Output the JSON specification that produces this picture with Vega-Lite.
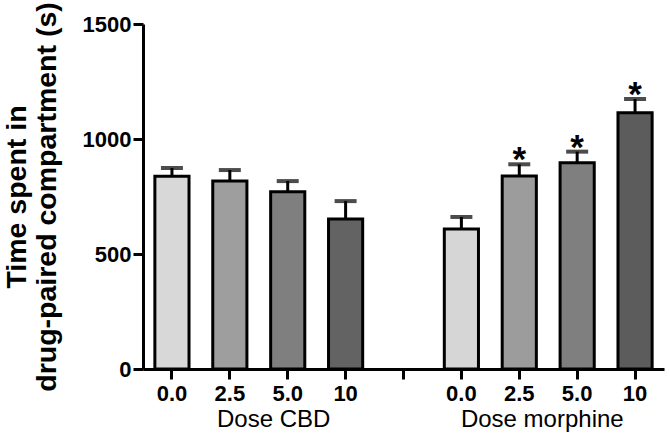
{
  "$schema": "https://vega.github.io/schema/vega-lite/v6.json",
  "width": 521,
  "height": 345,
  "autosize": "none",
  "padding": {"left": 143, "top": 24, "right": 6, "bottom": 75},
  "background": "white",
  "config": {"view": {"stroke": null}, "font": "Liberation Sans"},
  "data": {
    "values": [
      {"slot": "CBD 0.0", "group": "Dose CBD", "mean": 838, "upper": 874, "sig": ""},
      {"slot": "CBD 2.5", "group": "Dose CBD", "mean": 817, "upper": 865, "sig": ""},
      {"slot": "CBD 5.0", "group": "Dose CBD", "mean": 771, "upper": 817, "sig": ""},
      {"slot": "CBD 10", "group": "Dose CBD", "mean": 652, "upper": 730, "sig": ""},
      {"slot": "Morphine 0.0", "group": "Dose morphine", "mean": 609, "upper": 661, "sig": ""},
      {"slot": "Morphine 2.5", "group": "Dose morphine", "mean": 839, "upper": 890, "sig": "*"},
      {"slot": "Morphine 5.0", "group": "Dose morphine", "mean": 897, "upper": 945, "sig": "*"},
      {"slot": "Morphine 10", "group": "Dose morphine", "mean": 1114, "upper": 1174, "sig": "*"}
    ]
  },
  "layer": [
    {
      "encoding": {
        "x": {
          "field": "slot",
          "type": "nominal",
          "sort": null,
          "scale": {
            "type": "band",
            "domain": ["CBD 0.0", "CBD 2.5", "CBD 5.0", "CBD 10", "gap", "Morphine 0.0", "Morphine 2.5", "Morphine 5.0", "Morphine 10"],
            "paddingInner": 0.41,
            "paddingOuter": 0.205
          },
          "axis": {
            "title": null,
            "labelAngle": 0,
            "labelExpr": "datum.value == 'gap' ? '' : split(datum.value, ' ')[1]",
            "labelFontSize": 22,
            "labelFontWeight": "bold",
            "labelColor": "black",
            "labelPadding": 4,
            "domainColor": "black",
            "domainWidth": 3,
            "tickColor": "black",
            "tickWidth": 3,
            "tickSize": 10,
            "grid": false
          }
        }
      },
      "layer": [
        {
          "mark": {"type": "rule", "strokeWidth": 3, "color": "black"},
          "encoding": {
            "y": {
              "field": "mean",
              "type": "quantitative",
              "scale": {"domain": [0, 1500], "nice": false},
              "axis": {
                "title": ["Time spent in", "drug-paired compartment (s)"],
                "values": [0, 500, 1000, 1500],
                "format": "d",
                "grid": false,
                "domainColor": "black",
                "domainWidth": 3,
                "tickColor": "black",
                "tickWidth": 3,
                "tickSize": 10,
                "labelFontSize": 22,
                "labelFontWeight": "bold",
                "labelColor": "black",
                "labelPadding": 2,
                "titleFontSize": 28.5,
                "titleFontWeight": "bold",
                "titleColor": "black",
                "titleLineHeight": 30,
                "titlePadding": 21,
                "titleLimit": 500
              }
            },
            "y2": {"field": "upper"}
          }
        },
        {
          "mark": {"type": "tick", "orient": "horizontal", "size": 22, "thickness": 4, "color": "black"},
          "encoding": {"y": {"field": "upper", "type": "quantitative"}}
        },
        {
          "mark": {"type": "bar", "stroke": "black", "strokeWidth": 3},
          "encoding": {
            "y": {"field": "mean", "type": "quantitative"},
            "fill": {
              "field": "slot",
              "type": "nominal",
              "scale": {
                "domain": ["CBD 0.0", "CBD 2.5", "CBD 5.0", "CBD 10", "Morphine 0.0", "Morphine 2.5", "Morphine 5.0", "Morphine 10"],
                "range": ["#d8d8d8", "#9e9e9e", "#7f7f7f", "#636363", "#d6d6d6", "#9c9c9c", "#7f7f7f", "#5c5c5c"]
              },
              "legend": null
            }
          }
        },
        {
          "mark": {"type": "text", "fontSize": 35, "fontWeight": "bold", "baseline": "alphabetic", "dy": 7, "color": "black"},
          "encoding": {
            "y": {"field": "upper", "type": "quantitative"},
            "text": {"field": "sig"}
          }
        }
      ]
    },
    {
      "data": {"values": [{"group": "Dose CBD"}, {"group": "Dose morphine"}]},
      "mark": {"type": "text", "opacity": 0},
      "encoding": {
        "x": {
          "field": "group",
          "type": "nominal",
          "scale": {"type": "point", "padding": 0.47},
          "axis": {
            "orient": "bottom",
            "title": null,
            "labelAngle": 0,
            "labelOffset": 4,
            "domain": false,
            "ticks": false,
            "grid": false,
            "labelPadding": 38,
            "labelFontSize": 24,
            "labelFontWeight": "normal",
            "labelColor": "black"
          }
        },
        "text": {"value": ""}
      }
    }
  ],
  "resolve": {"scale": {"x": "independent"}}
}
